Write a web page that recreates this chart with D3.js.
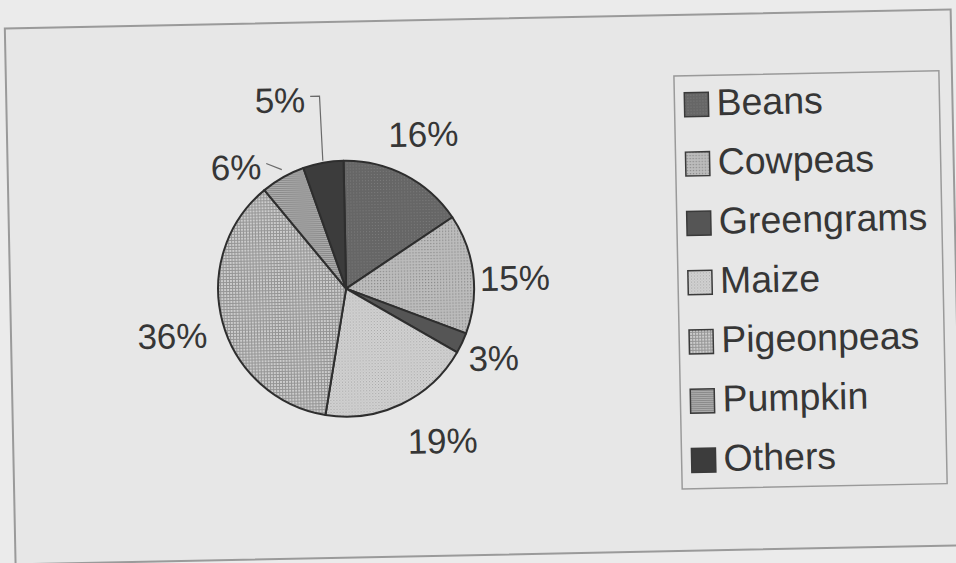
<!DOCTYPE html>
<html>
<head>
<meta charset="utf-8">
<script src="https://cdn.jsdelivr.net/npm/d3@7"></script>
<style>
  html, body { margin: 0; padding: 0; background: #ebebeb; }
  svg { display: block; }
  text { font-family: "Liberation Sans", Arial, sans-serif; fill: #363636; }
</style>
</head>
<body>
<svg id="chart" width="956" height="563"></svg>
<script>
// ---- data ----
const categories = ["Beans", "Cowpeas", "Greengrams", "Maize", "Pigeonpeas", "Pumpkin", "Others"];
const shares = [15.9, 15.1, 2.6, 19.3, 36.4, 5.6, 5.1];   // percent of total

// ---- layout (not data) ----
const W = 956, H = 563;
const cx = 346, cy = 286, R = 128;
const labelAngleNudge = [-1, 3, 0, -7, 0, -12.6, -9];   // degrees
const labelRadius = [173, 169, 163, 180, 180, 164, 200];
const leaderSlices = ["Pumpkin", "Others"];

const fills = ["url(#pBeans)", "url(#pCowpeas)", "#555555", "url(#pMaize)", "url(#pPigeon)", "url(#pPumpkin)", "#3c3c3c"];

const svg = d3.select("#chart");
const defs = svg.append("defs");

function pat(id, size, base, draw) {
  const p = defs.append("pattern").attr("id", id).attr("patternUnits", "userSpaceOnUse")
    .attr("width", size).attr("height", size);
  p.append("rect").attr("width", size).attr("height", size).attr("fill", base);
  draw(p);
}
pat("pBeans", 3, "#666666", p => p.append("rect").attr("x", 0).attr("y", 0).attr("width", 1).attr("height", 1).attr("fill", "#7c7c7c"));
pat("pCowpeas", 3, "#bcbcbc", p => p.append("rect").attr("x", 1).attr("y", 1).attr("width", 1.2).attr("height", 1.2).attr("fill", "#888888"));
pat("pMaize", 3, "#d2d2d2", p => { p.append("rect").attr("x", 0).attr("y", 0).attr("width", 1).attr("height", 1).attr("fill", "#a6a6a6"); p.append("rect").attr("x", 1.5).attr("y", 1.5).attr("width", 1).attr("height", 1).attr("fill", "#b3b3b3"); });
pat("pPigeon", 3, "#cccccc", p => { p.append("rect").attr("x", 0).attr("y", 0).attr("width", 3).attr("height", 1).attr("fill", "#959595"); p.append("rect").attr("x", 0).attr("y", 0).attr("width", 1).attr("height", 3).attr("fill", "#959595"); });
pat("pPumpkin", 2, "#acacac", p => p.append("rect").attr("x", 0).attr("y", 0).attr("width", 2).attr("height", 1).attr("fill", "#8a8a8a"));

const g = svg.append("g").attr("transform", `rotate(-1.15, ${W / 2}, ${H / 2})`);

// outer frame
g.append("rect").attr("x", 10).attr("y", 19).attr("width", 946).attr("height", 536)
  .attr("fill", "#e7e7e7").attr("stroke", "#9a9a9a").attr("stroke-width", 2);

// pie
const pie = d3.pie().sort(null).value(d => d.v);
const arcs = pie(categories.map((c, i) => ({ c, v: shares[i], i })));
const arc = d3.arc().innerRadius(0).outerRadius(R);
const total = d3.sum(shares);
const fmt = d3.format(".0%");

const pg = g.append("g").attr("transform", `translate(${cx},${cy})`);
pg.selectAll("path").data(arcs).join("path")
  .attr("d", arc)
  .attr("fill", d => fills[d.data.i])
  .attr("stroke", "#2e2e2e").attr("stroke-width", 2).attr("stroke-linejoin", "round");

// labels
const deg = Math.PI / 180;
arcs.forEach(d => {
  const i = d.data.i;
  const mid = (d.startAngle + d.endAngle) / 2;
  const a = mid + labelAngleNudge[i] * deg;
  const lx = Math.sin(a) * labelRadius[i];
  const ly = -Math.cos(a) * labelRadius[i];
  const t = pg.append("text")
    .attr("x", lx).attr("y", ly)
    .attr("text-anchor", "middle").attr("dy", "0.36em")
    .attr("font-size", 35)
    .text(fmt(d.data.v / total));
  if (leaderSlices.includes(d.data.c)) {
    const w = t.node().getComputedTextLength();
    const sx = lx + w / 2 + 5, sy = ly - 3;
    const ex = Math.sin(mid) * (R + 2), ey = -Math.cos(mid) * (R + 2);
    let pts;
    if (Math.abs(ey - sy) > 30) {
      pts = [[sx, sy], [ex - 2, sy], [ex, ey]];
    } else {
      pts = [[sx, sy], [ex, ey - 6]];
    }
    pg.append("path").attr("d", d3.line()(pts)).attr("fill", "none")
      .attr("stroke", "#6a6a6a").attr("stroke-width", 1.2);
  }
});

// legend
const lg = g.append("g");
lg.append("rect").attr("x", 678).attr("y", 80).attr("width", 265).attr("height", 413)
  .attr("fill", "#e7e7e7").attr("stroke", "#9a9a9a").attr("stroke-width", 1.5);
const ly0 = 120, lstep = 59.3;
const rows = lg.selectAll("g.row").data(categories).join("g").attr("class", "row")
  .attr("transform", (d, i) => `translate(688, ${ly0 + i * lstep})`);
rows.append("rect").attr("x", 0).attr("y", -23).attr("width", 24).attr("height", 24)
  .attr("fill", (d, i) => fills[i]).attr("stroke", "#3a3a3a").attr("stroke-width", 1.5);
rows.append("text").attr("x", 32).attr("y", 0).attr("font-size", 37.5).text(d => d);
</script>
</body>
</html>
